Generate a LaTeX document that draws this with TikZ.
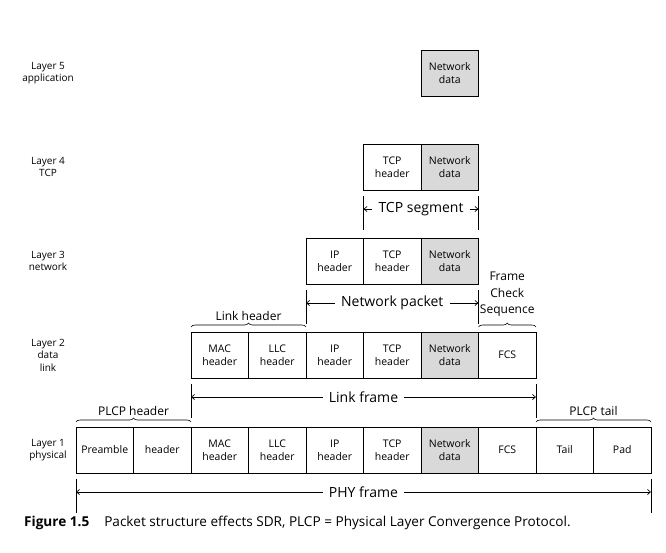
\documentclass[tikz,border=0pt]{standalone}
\usepackage{fontspec}
\setmainfont{Open Sans}
\usepackage{tikz}
\usetikzlibrary{arrows.meta}
\usetikzlibrary{decorations.pathreplacing}

\begin{document}
\begin{tikzpicture}[x=1pt,y=-1pt]

%\draw[help lines] (0,0) grid (666,552);

% Define block styles
\tikzstyle{field}=[draw, line width=0.8pt, minimum width=57.5pt,
  minimum height=46pt, inner sep=0pt, outer sep=0pt, align=center,
  font=\fontsize{10.5}{13}\selectfont]
\tikzstyle{datafield} = [field, fill=black!15]
\tikzstyle{layertext} = [align=center, font=\fontsize{10}{12.5}\selectfont]
\tikzstyle{spantext} = [font=\fontsize{14}{16}\selectfont, inner sep=6pt]
\tikzstyle{bracetext} = [align=center, font=\fontsize{12}{16.5}\selectfont,
  inner sep=2pt]
\tikzstyle{captiontext} = [anchor=west, inner sep=0pt,
  font=\fontsize{13.6}{15}\selectfont]
\tikzstyle{tick} = [draw, line width=0.7pt]
\tikzstyle{dimline} = [draw, line width=0.7pt,
  -{Straight Barb[length=3pt,width=5pt]}]
\tikzstyle{curly} = [draw, line width=0.6pt, decorate,
  decoration={brace, amplitude=4pt}]

% Dimension line below a row
\newcommand{\spanline}[4]{%
  \path (#1.south west)+(0,6) coordinate (#3l1);
  \path (#1.south west)+(0,40) coordinate (#3l2);
  \path (#2.south east)+(0,6) coordinate (#3r1);
  \path (#2.south east)+(0,40) coordinate (#3r2);
  \path[tick] (#3l1) -- (#3l2);
  \path[tick] (#3r1) -- (#3r2);
  \path (#3l1) -- (#3r1) node[midway, yshift=-13pt] (#3) [spantext] {#4};
  \path[dimline] (#3.west) -- (#3.west -| #3l1);
  \path[dimline] (#3.east) -- (#3.east -| #3r1);}

% Brace above a group of fields
\newcommand{\bracelabel}[5]{%
  \path (#1.north west)+(0,-5) coordinate (#3a);
  \path (#2.north east)+(0,-5) coordinate (#3b);
  \path[curly] (#3a) -- node[above=#5, bracetext] (#3) {#4} (#3b);}

% Layer names
\path node (lay5) at (48,73) [layertext] {Layer 5\\application};
\path node (lay4) at (48,167) [layertext] {Layer 4\\TCP};
\path node (lay3) at (48,261) [layertext] {Layer 3\\network};
\path node (lay2) at (48,355) [layertext] {Layer 2\\data\\link};
\path node (lay1) at (48,450) [layertext] {Layer 1\\physical};

% Layer 5
\path node (l5data) at (449.75,73) [datafield] {Network\\data};

% Layer 4
\path node (l4tcp) at (392.25,167) [field] {TCP\\header};
\path (l4tcp.east) node[anchor=west] (l4data) [datafield] {Network\\data};

% Layer 3
\path node (l3ip) at (334.75,261) [field] {IP\\header};
\path (l3ip.east) node[anchor=west] (l3tcp) [field] {TCP\\header};
\path (l3tcp.east) node[anchor=west] (l3data) [datafield] {Network\\data};

% Layer 2
\path node (l2mac) at (219.75,355) [field] {MAC\\header};
\path (l2mac.east) node[anchor=west] (l2llc) [field] {LLC\\header};
\path (l2llc.east) node[anchor=west] (l2ip) [field] {IP\\header};
\path (l2ip.east) node[anchor=west] (l2tcp) [field] {TCP\\header};
\path (l2tcp.east) node[anchor=west] (l2data) [datafield] {Network\\data};
\path (l2data.east) node[anchor=west] (l2fcs) [field] {FCS};

% Layer 1
\path node (l1pre) at (104.75,450) [field] {Preamble};
\path (l1pre.east) node[anchor=west] (l1hdr) [field] {header};
\path (l1hdr.east) node[anchor=west] (l1mac) [field] {MAC\\header};
\path (l1mac.east) node[anchor=west] (l1llc) [field] {LLC\\header};
\path (l1llc.east) node[anchor=west] (l1ip) [field] {IP\\header};
\path (l1ip.east) node[anchor=west] (l1tcp) [field] {TCP\\header};
\path (l1tcp.east) node[anchor=west] (l1data) [datafield] {Network\\data};
\path (l1data.east) node[anchor=west] (l1fcs) [field] {FCS};
\path (l1fcs.east) node[anchor=west] (l1tail) [field] {Tail};
\path (l1tail.east) node[anchor=west] (l1pad) [field] {Pad};

% Spans and braces
\spanline{l4tcp}{l4data}{tcpseg}{TCP segment}
\spanline{l3ip}{l3data}{netpkt}{Network packet}
\spanline{l2mac}{l2fcs}{linkfr}{Link frame}
\spanline{l1pre}{l1pad}{phyfr}{PHY frame}

\bracelabel{l2mac}{l2llc}{linkhdr}{Link header}{4pt}
\bracelabel{l2fcs}{l2fcs}{fcsname}{Frame\\Check\\Sequence}{8pt}
\bracelabel{l1pre}{l1hdr}{plcphdr}{PLCP header}{4pt}
\bracelabel{l1tail}{l1pad}{plcptail}{PLCP tail}{4pt}

% Caption
\path (24,523) node (caption) [captiontext] {\textbf{Figure 1.5}\hspace{1.1em}%
Packet structure effects SDR, PLCP = Physical Layer Convergence Protocol.};

\useasboundingbox (0,0) rectangle (666,552);

\end{tikzpicture}
\end{document}
